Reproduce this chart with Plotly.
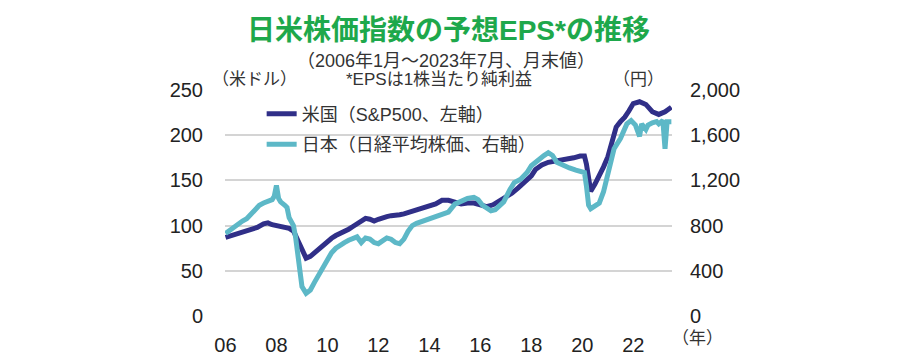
import plotly.graph_objects as go

# ---- data ----
us_dates = ["2006-01", "2006-04", "2006-07", "2006-10", "2007-01", "2007-04", "2007-07", "2007-09",
            "2007-11", "2008-01", "2008-03", "2008-05", "2008-07", "2008-09", "2008-11", "2009-01",
            "2009-03", "2009-05", "2009-07", "2009-09", "2009-11", "2010-01", "2010-03", "2010-05",
            "2010-07", "2010-09", "2010-11", "2011-01", "2011-03", "2011-05", "2011-07", "2011-09",
            "2011-11", "2012-01", "2012-03", "2012-05", "2012-07", "2012-09", "2012-11", "2013-01",
            "2013-04", "2013-07", "2013-10", "2014-01", "2014-04", "2014-07", "2014-10", "2015-01",
            "2015-04", "2015-07", "2015-10", "2016-01", "2016-04", "2016-07", "2016-10", "2017-01",
            "2017-04", "2017-07", "2017-10", "2018-01", "2018-03", "2018-06", "2018-09", "2018-12",
            "2019-03", "2019-06", "2019-09", "2019-12", "2020-02", "2020-03", "2020-05", "2020-07",
            "2020-09", "2020-11", "2021-01", "2021-03", "2021-05", "2021-07", "2021-09", "2021-11",
            "2022-01", "2022-04", "2022-07", "2022-10", "2023-01", "2023-04", "2023-07"]
us_eps = [87, 89, 91, 93, 95, 98, 102, 103,
          101, 100, 99, 98, 97, 94, 84, 72,
          64, 66, 70, 74, 78, 83, 86, 89,
          91, 93, 96, 99, 102, 105, 108, 107,
          105, 107, 109, 110, 111, 111, 112, 113,
          115, 117, 119, 121, 124, 128, 128, 126,
          124, 125, 125, 123, 121, 123, 127, 131,
          136, 142, 148, 155, 162, 167, 170, 171,
          172, 174, 175, 177, 177, 168, 138, 146,
          155, 165, 176, 193, 209, 215, 220, 227,
          235, 237, 234, 226, 223, 226, 231]

jp_dates = ["2006-01", "2006-04", "2006-07", "2006-09", "2006-11", "2007-01", "2007-03", "2007-05",
            "2007-07", "2007-09", "2007-11", "2007-12", "2008-01", "2008-02", "2008-03", "2008-05",
            "2008-06", "2008-07", "2008-08", "2008-09", "2008-10", "2008-11", "2008-12", "2009-01",
            "2009-03", "2009-05", "2009-07", "2009-09", "2009-11", "2010-01", "2010-03", "2010-05",
            "2010-07", "2010-09", "2010-11", "2011-01", "2011-03", "2011-05", "2011-07", "2011-09",
            "2011-11", "2012-01", "2012-03", "2012-05", "2012-07", "2012-09", "2012-11", "2013-01",
            "2013-03", "2013-05", "2013-07", "2013-10", "2014-01", "2014-04", "2014-07", "2014-10",
            "2015-01", "2015-04", "2015-07", "2015-10", "2015-12", "2016-02", "2016-04", "2016-06",
            "2016-08", "2016-10", "2016-12", "2017-03", "2017-05", "2017-08", "2017-11", "2018-01",
            "2018-04", "2018-07", "2018-09", "2018-11", "2019-01", "2019-04", "2019-07", "2019-10",
            "2019-12", "2020-02", "2020-03", "2020-04", "2020-05", "2020-07", "2020-09", "2020-11",
            "2021-01", "2021-04", "2021-07", "2021-10", "2021-12", "2022-02", "2022-04", "2022-05",
            "2022-07", "2022-08", "2022-10", "2022-12", "2023-01", "2023-02", "2023-03", "2023-04",
            "2023-05", "2023-07"]
jp_eps = [730, 770, 820, 840, 860, 900, 950, 980,
          1000, 1020, 1030, 1060, 1155, 1040, 1010, 980,
          960, 870, 820, 800, 700, 540, 380, 260,
          200, 230, 300, 370, 440, 500, 560, 600,
          630, 650, 670, 690, 700, 650, 690, 680,
          650, 640, 660, 690, 680, 650, 640, 680,
          750, 800, 820, 840, 860, 870, 890, 920,
          990, 1020, 1040, 1050, 1030, 980, 950, 930,
          940, 980, 1010, 1120, 1180, 1210, 1270, 1330,
          1380, 1420, 1445, 1420, 1360, 1330, 1310, 1290,
          1280, 1270, 1150, 980, 950, 970, 1000, 1100,
          1250, 1480, 1570, 1700, 1730, 1690, 1590, 1700,
          1650, 1690, 1710, 1720, 1700, 1720, 1730, 1480,
          1720, 1720]

x_tickvals = ["2006-01-01", "2008-01-01", "2010-01-01", "2012-01-01", "2014-01-01",
              "2016-01-01", "2018-01-01", "2020-01-01", "2022-01-01"]
x_ticktext = ["06", "08", "10", "12", "14", "16", "18", "20", "22"]
left_ticks = [0, 50, 100, 150, 200, 250]
right_ticks = [0, 400, 800, 1200, 1600, 2000]
right_ticktext = ["0", "400", "800", "1,200", "1,600", "2,000"]

FONT = "Liberation Sans, Noto Sans CJK JP, sans-serif"
TXT = "#333333"
NAVY = "#302f88"
CYAN = "#5db8c7"

fig = go.Figure()
fig.add_trace(go.Scatter(x=us_dates, y=us_eps, mode="lines", name="米国（S&P500、左軸）",
                         line=dict(color=NAVY, width=5), legendgroup="a"))
fig.add_trace(go.Scatter(x=jp_dates, y=jp_eps, mode="lines", name="日本（日経平均株価、右軸）",
                         line=dict(color=CYAN, width=5), yaxis="y2", legendgroup="b"))

fig.update_layout(
    width=900, height=360,
    margin=dict(l=217, r=236, t=82, b=50),
    paper_bgcolor="white", plot_bgcolor="white",
    font=dict(family=FONT, color=TXT, size=20),
    showlegend=True,
    legend=dict(x=0.082, y=0.975, xanchor="left", yanchor="top",
                bgcolor="rgba(0,0,0,0)", font=dict(size=18, color=TXT),
                tracegroupgap=4, traceorder="grouped"),
    xaxis=dict(type="date", range=["2005-12-25", "2023-07-10"],
               tickvals=x_tickvals, ticktext=x_ticktext,
               showgrid=False, zeroline=False, showline=False,
               ticks="", ticklabelstandoff=15,
               tickfont=dict(size=20, color="#222222")),
    yaxis=dict(range=[0, 250], tickvals=left_ticks, showgrid=True,
               gridcolor="#d4d4d4", gridwidth=1.6, zeroline=False, showline=False,
               ticks="", ticklabelstandoff=21, tickfont=dict(size=20, color="#222222")),
    yaxis2=dict(range=[0, 2000], tickvals=right_ticks, ticktext=right_ticktext,
                overlaying="y", side="right", showgrid=False, zeroline=False,
                showline=False, ticks="", ticklabelstandoff=17,
                tickfont=dict(size=20, color="#222222")),
)

annos = [
    dict(text="<b>日米株価指数の予想EPS*の推移</b>", x=0.499, y=1.265, size=28, color="#1ea84b"),
    dict(text="（2006年1月～2023年7月、月末値）", x=0.494, y=1.13, size=18, color=TXT),
    dict(text="*EPSは1株当たり純利益", x=0.479, y=1.047, size=17, color=TXT),
    dict(text="（米ドル）", x=0.065, y=1.047, size=17, color=TXT),
    dict(text="（円）", x=0.924, y=1.047, size=17, color=TXT),
    dict(text="（年）", x=1.056, y=-0.10, size=17, color=TXT),
]
for a in annos:
    fig.add_annotation(text=a["text"], x=a["x"], y=a["y"], xref="paper", yref="paper",
                       xanchor="center", yanchor="middle", showarrow=False,
                       font=dict(family=FONT, size=a["size"], color=a["color"]))

fig.write_html("out.html")
